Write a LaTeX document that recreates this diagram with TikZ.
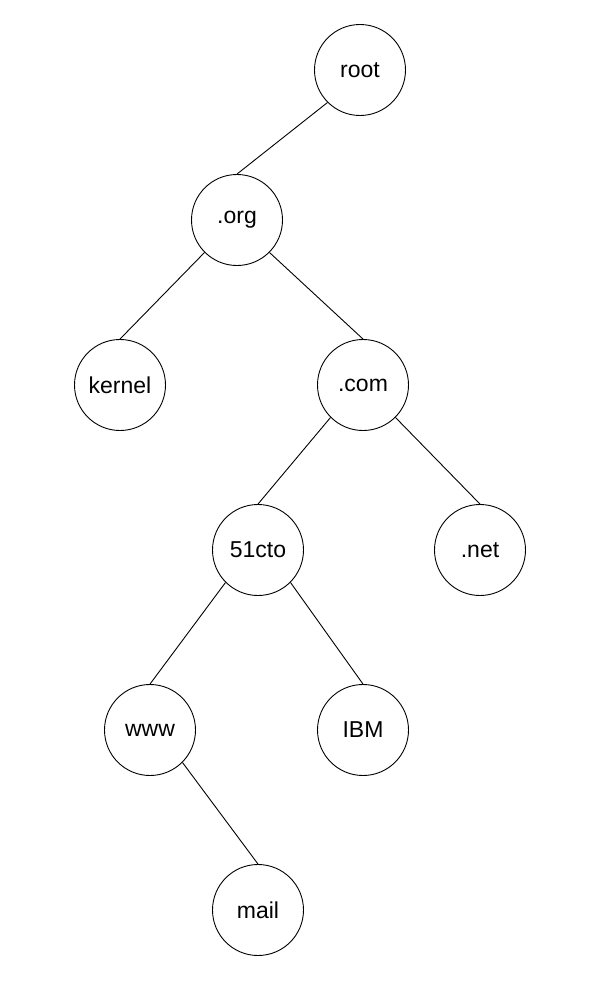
\documentclass[tikz,border=0pt]{standalone}
\usepackage{fontspec}
\setmainfont{Liberation Sans}
\begin{document}
\begin{tikzpicture}[x=1pt,y=-1pt,
  dnsnode/.style={draw,circle,line width=0.9pt,minimum size=91pt,inner sep=0pt,font=\fontsize{23}{27}\selectfont},
  link/.style={line width=0.9pt}]
\useasboundingbox (0,0) rectangle (599,993);
% the nodes
\node[dnsnode] (root) at (360,70) {root};
\node[dnsnode] (org) at (237,220) {.org};
\node[dnsnode] (kernel) at (120,385) {kernel};
\node[dnsnode] (com) at (363,385) {.com};
\node[dnsnode] (cto) at (258,550) {51cto};
\node[dnsnode] (net) at (480,550) {.net};
\node[dnsnode] (www) at (150,730) {www};
\node[dnsnode] (ibm) at (363,730) {IBM};
\node[dnsnode] (mail) at (258,910) {mail};
% the edges, from the parent's lower side to the child's top
\foreach \a/\s/\b in {root/south west/org,org/south west/kernel,org/south east/com,
  com/south west/cto,com/south east/net,cto/south west/www,cto/south east/ibm,www/south east/mail}
  \draw[link] (\a.\s) -- (\b.north);
\end{tikzpicture}
\end{document}
